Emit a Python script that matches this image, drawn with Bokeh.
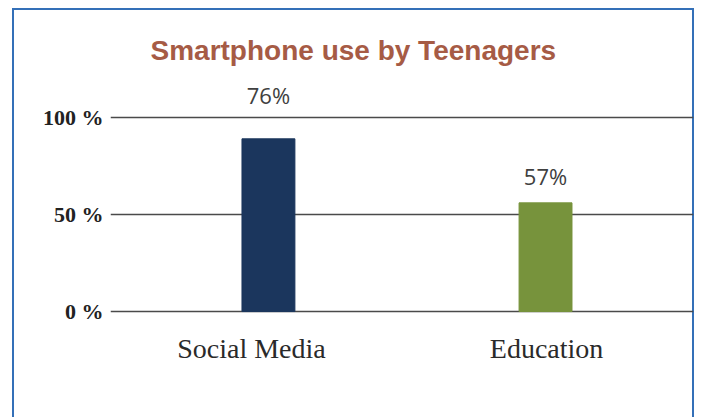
from bokeh.plotting import figure
from bokeh.models import Range1d, FixedTicker, ColumnDataSource
from bokeh.core.properties import value
from bokeh.embed import file_html
from bokeh.resources import INLINE

# ---- data ----
categories = ["Social Media", "Education"]
bar_values = [89, 56]
value_labels = ["76%", "57%"]
tick_values = [0, 50, 100]
tick_labels = ["0 %", "50 %", "100 %"]

# ---- styles ----
bar_colors = ["#1b365d", "#77933c"]
label_lift = [-44, -27]     # px offset of the value labels above the bars
name_shift = [-17, 1]       # px horizontal shift of the category names
frame_blue = "#3470b8"

xs = list(range(len(categories)))
src = ColumnDataSource(dict(x=xs, top=bar_values, color=bar_colors,
                            vlab=value_labels, lift=label_lift,
                            name=categories, shift=name_shift,
                            zero=[0] * len(xs)))

p = figure(width=701, height=417,
           x_range=Range1d(-0.570, 1.534), y_range=Range1d(-54.6, 124.2),
           output_backend="svg", toolbar_location=None,
           min_border_left=110, min_border_right=8,
           min_border_top=70, min_border_bottom=0)

# chart-area border (left, top, right edges) drawn behind the transparent canvas
grad = f"linear-gradient({frame_blue}, {frame_blue})"
p.styles = {
    "background-color": "white",
    "background-image": ", ".join([grad, grad, grad]),
    "background-position": "12px 8px, 12px 8px, 692px 8px",
    "background-size": "2px 100%, 682px 2px, 2px 100%",
    "background-repeat": "no-repeat",
}
p.background_fill_color = None
p.border_fill_color = None
p.outline_line_color = None

p.title.text = "Smartphone use by Teenagers"
p.title.text_font = "Liberation Sans"
p.title.text_font_size = "28px"
p.title.text_font_style = "bold"
p.title.text_color = "#a65b45"
p.title.align = "left"
p.title.offset = 40

p.xaxis.visible = False
p.xgrid.visible = False

p.yaxis.ticker = FixedTicker(ticks=tick_values)
p.yaxis.major_label_overrides = {v: t for v, t in zip(tick_values, tick_labels)}
p.yaxis.axis_line_color = None
p.yaxis.major_tick_line_color = None
p.yaxis.minor_tick_line_color = None
p.yaxis.major_tick_out = 0
p.yaxis.major_tick_in = 0
p.yaxis.minor_tick_out = 0
p.yaxis.major_label_standoff = 7
p.yaxis.major_label_text_font = "Liberation Serif"
p.yaxis.major_label_text_font_size = "22px"
p.yaxis.major_label_text_font_style = "bold"
p.yaxis.major_label_text_color = "#222222"

p.ygrid.ticker = FixedTicker(ticks=tick_values)
p.ygrid.grid_line_color = "#4a4a4a"
p.ygrid.grid_line_width = 1.6

p.vbar(x="x", top="top", width=0.191, bottom=0, color="color", source=src)

p.text(x="x", y="top", text="vlab", y_offset="lift", source=src,
       text_align="center", text_baseline="middle",
       text_font=value("Open Sans"), text_font_size="22px",
       text_color="#404040")

p.text(x="x", y="zero", text="name", x_offset="shift", y_offset=37, source=src,
       text_align="center", text_baseline="middle",
       text_font=value("Liberation Serif"), text_font_size="28px",
       text_color="#2a2a2a")

open("out.html", "w").write(file_html(p, INLINE))
